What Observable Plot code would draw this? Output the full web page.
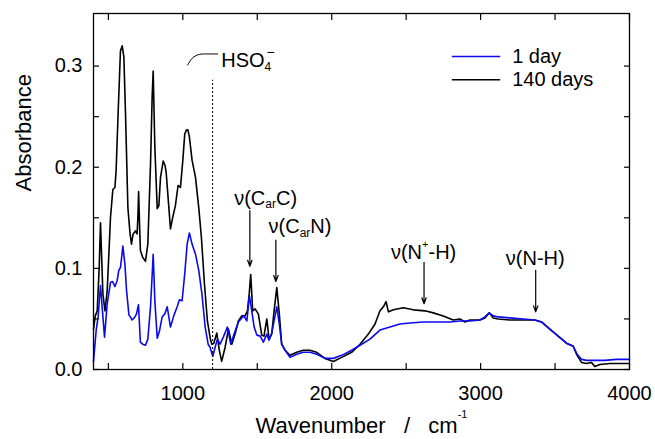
<!DOCTYPE html>
<html><head><meta charset="utf-8">
<script src="https://cdn.jsdelivr.net/npm/d3@7"></script>
<script src="https://cdn.jsdelivr.net/npm/@observablehq/plot@0.6"></script>
<style>body{margin:0;background:#fff} #chart svg{display:block}</style>
</head><body><div id="chart"></div>
<script>
// ---- data ----
const wn140 = [400,412,425,438,447,455,463,477,492,505,514,530,544,552,566,581,593,604,615,631,645,655,666,682,693,698,703,708,715,730,749,765,783,794,801,806,812,828,839,850,868,880,888,901,917,933,950,968,984,1000,1013,1025,1034,1044,1062,1085,1107,1125,1145,1165,1185,1195,1208,1228,1245,1261,1284,1306,1329,1351,1373,1396,1418,1434,1446,1456,1463,1469,1485,1507,1530,1545,1564,1579,1597,1613,1631,1648,1664,1687,1720,1765,1809,1854,1899,1955,2011,2067,2134,2190,2246,2291,2324,2347,2365,2381,2414,2481,2548,2626,2682,2749,2816,2861,2895,2928,2995,3029,3058,3085,3118,3196,3286,3364,3409,3465,3521,3577,3622,3648,3678,3711,3745,3767,3801,3868,3935,4000];
const abs140 = [0.040,0.053,0.058,0.100,0.145,0.110,0.075,0.058,0.078,0.120,0.150,0.178,0.180,0.197,0.256,0.315,0.320,0.309,0.253,0.160,0.135,0.124,0.134,0.137,0.134,0.150,0.176,0.150,0.118,0.111,0.107,0.124,0.203,0.270,0.295,0.260,0.220,0.159,0.162,0.190,0.206,0.202,0.195,0.170,0.139,0.151,0.162,0.182,0.180,0.207,0.233,0.237,0.237,0.230,0.207,0.190,0.160,0.130,0.085,0.048,0.030,0.025,0.026,0.036,0.019,0.008,0.022,0.040,0.025,0.035,0.048,0.053,0.053,0.058,0.075,0.094,0.075,0.058,0.060,0.055,0.034,0.033,0.050,0.030,0.035,0.058,0.081,0.055,0.025,0.019,0.014,0.017,0.019,0.019,0.017,0.011,0.008,0.012,0.017,0.025,0.035,0.045,0.058,0.062,0.067,0.057,0.059,0.061,0.059,0.058,0.056,0.053,0.049,0.050,0.047,0.049,0.049,0.051,0.056,0.051,0.050,0.049,0.049,0.049,0.047,0.040,0.033,0.026,0.023,0.014,0.007,0.006,0.007,0.003,0.005,0.006,0.006,0.006];
const wn1 = [400,418,431,440,447,458,474,492,514,528,544,559,570,581,590,597,611,622,638,660,678,689,702,715,730,749,765,783,801,812,828,843,861,879,895,917,939,962,977,995,1013,1029,1044,1062,1085,1107,1128,1150,1170,1183,1201,1217,1232,1250,1272,1299,1322,1344,1373,1396,1410,1430,1447,1463,1479,1497,1520,1541,1564,1579,1597,1613,1631,1648,1664,1687,1720,1765,1809,1854,1899,1955,2011,2067,2134,2190,2257,2324,2391,2458,2525,2615,2704,2794,2861,2928,2995,3029,3058,3085,3118,3196,3286,3364,3409,3465,3521,3577,3622,3648,3678,3711,3756,3834,3912,4000];
const abs1 = [0.008,0.039,0.052,0.070,0.083,0.062,0.032,0.065,0.086,0.087,0.082,0.088,0.098,0.101,0.112,0.122,0.104,0.078,0.054,0.049,0.052,0.055,0.064,0.027,0.025,0.024,0.030,0.062,0.114,0.068,0.031,0.038,0.052,0.055,0.062,0.042,0.053,0.062,0.069,0.068,0.095,0.124,0.135,0.124,0.114,0.098,0.075,0.042,0.025,0.022,0.013,0.022,0.030,0.025,0.032,0.042,0.025,0.035,0.047,0.051,0.053,0.048,0.073,0.058,0.042,0.034,0.033,0.027,0.035,0.029,0.036,0.048,0.062,0.045,0.025,0.019,0.012,0.015,0.017,0.017,0.015,0.011,0.011,0.014,0.019,0.024,0.030,0.039,0.042,0.045,0.046,0.047,0.047,0.047,0.048,0.048,0.049,0.052,0.056,0.053,0.052,0.051,0.050,0.049,0.047,0.040,0.033,0.026,0.023,0.015,0.010,0.009,0.009,0.009,0.010,0.010];
const seriesNames = ["1 day", "140 days"];
const xTickValues = [500,1000,1500,2000,2500,3000,3500,4000];
const xTickLabels = [1000,2000,3000,4000];
const yTickValues = [0,0.05,0.10,0.15,0.20,0.25,0.30];
const yTickLabels = [0,0.1,0.2,0.3];

// ---- helpers ----
const FONT = "'Liberation Sans', Arial, sans-serif";
const BLUE = "#0a0af0";
const ctx = document.createElement("canvas").getContext("2d");
function measure(t, size) { ctx.font = `${size}px ${FONT}`; return ctx.measureText(t).width; }
// rich text: parts [{t,size,dy,stack}] centered (or start) at data point (x,y)
function richText(x, y, parts, {anchor = "middle", lineAnchor = "middle", baseDy = 0} = {}) {
  let total = 0, pos = [], prevStart = 0;
  for (const p of parts) {
    const w = measure(p.t, p.size);
    if (p.stack) { pos.push(prevStart + (p.shift || 0)); total = Math.max(total, prevStart + w); }
    else { pos.push(total); prevStart = total; total += w; }
  }
  const start = anchor === "middle" ? -total / 2 : 0;
  return parts.map((p, i) => Plot.text([{x, y}], {
    x: "x", y: "y", text: () => p.t, textAnchor: "start", lineAnchor,
    dx: start + pos[i], dy: baseDy + (p.dy || 0), fontSize: p.size, fill: "black"
  }));
}

const row = (wn, ab) => wn.map((w, i) => ({w, a: ab[i]}));
const d140 = row(wn140, abs140);
const d1 = row(wn1, abs1);

const marks = [
  // inward ticks on all four sides
  Plot.axisX(xTickValues, {anchor: "bottom", tickSize: -6, tickFormat: () => "", label: null, strokeWidth: 1.2}),
  Plot.axisX(xTickValues, {anchor: "top", tickSize: -6, tickFormat: () => "", label: null, strokeWidth: 1.2}),
  Plot.axisY(yTickValues, {anchor: "left", tickSize: -6, tickFormat: () => "", label: null, strokeWidth: 1.2}),
  Plot.axisY(yTickValues, {anchor: "right", tickSize: -6, tickFormat: () => "", label: null, strokeWidth: 1.2}),
  // tick labels
  Plot.axisX(xTickLabels, {anchor: "bottom", tickSize: 0, tickPadding: 16, tickFormat: "d", label: null, fontSize: 20, fill: "black"}),
  Plot.axisY(yTickLabels, {anchor: "left", tickSize: 0, tickPadding: 11, tickFormat: ".1f", label: null, fontSize: 20, fill: "black"}),
  // spectra
  Plot.line(d140, {x: "w", y: "a", stroke: "black", strokeWidth: 1.6}),
  Plot.line(d1, {x: "w", y: "a", stroke: BLUE, strokeWidth: 1.6}),
  // HSO4- marker
  Plot.ruleX([1200], {y1: 0, y2: 0.286, stroke: "black", strokeWidth: 1, strokeDasharray: "2,2"}),
  Plot.line([{w:1032,a:0.301},{w:1065,a:0.308},{w:1110,a:0.3115},{w:1160,a:0.312},{w:1233,a:0.312}], {x: "w", y: "a", curve: "natural", stroke: "black", strokeWidth: 1}),
  ...richText(1258, 0.3056, [{t: "HSO", size: 20}, {t: "4", size: 12, dy: 7}, {t: "\u2212", size: 14, dy: -8, stack: true, shift: 2}], {anchor: "start"}),
  // band arrows
  Plot.arrow([{x: 1450, y1: 0.157, y2: 0.102}, {x: 1625, y1: 0.128, y2: 0.087}, {x: 2620, y1: 0.106, y2: 0.065}, {x: 3370, y1: 0.098, y2: 0.057}],
    {x1: "x", x2: "x", y1: "y1", y2: "y2", stroke: "black", strokeWidth: 1.2, headLength: 8, headAngle: 40}),
  ...richText(1556, 0.169, [{t: "\u03bd(C", size: 20}, {t: "ar", size: 12, dy: 6}, {t: "C)", size: 20}]),
  ...richText(1787, 0.141, [{t: "\u03bd(C", size: 20}, {t: "ar", size: 12, dy: 6}, {t: "N)", size: 20}]),
  ...richText(2617, 0.116, [{t: "\u03bd(N", size: 20}, {t: "+", size: 11, dy: -8}, {t: "-H)", size: 20}]),
  ...richText(3367, 0.110, [{t: "\u03bd(N-H)", size: 20}]),
  // legend
  Plot.ruleY([seriesNames[0]], {y: () => 0.3096, x1: 2810, x2: 3135, stroke: BLUE, strokeWidth: 1.5}),
  Plot.ruleY([seriesNames[1]], {y: () => 0.2866, x1: 2810, x2: 3135, stroke: "black", strokeWidth: 1.5}),
  Plot.text([seriesNames[0]], {x: () => 3212, y: () => 0.3096, text: d => d, textAnchor: "start", fontSize: 20, fill: "black"}),
  Plot.text([seriesNames[1]], {x: () => 3212, y: () => 0.2866, text: d => d, textAnchor: "start", fontSize: 20, fill: "black"}),
  // axis titles
  Plot.text(["Absorbance"], {frameAnchor: "left", text: d => d, rotate: -90, dx: -70, fontSize: 22, fill: "black"}),
  ...richText(2200, 0, [{t: "Wavenumber\u00a0\u00a0\u00a0/\u00a0\u00a0\u00a0cm", size: 22}, {t: "-1", size: 11, dy: -7}], {lineAnchor: "top", baseDy: 48}),
  Plot.frame({stroke: "black", strokeWidth: 1.3})
];

const chart = Plot.plot({
  width: 655, height: 439,
  marginLeft: 93, marginRight: 26, marginTop: 13, marginBottom: 70,
  x: {domain: [400, 4000], axis: null},
  y: {domain: [0, 0.352], axis: null},
  style: {fontFamily: FONT, fontSize: "20px", background: "white", color: "black"},
  marks
});
document.getElementById("chart").appendChild(chart);
</script>
</body></html>
